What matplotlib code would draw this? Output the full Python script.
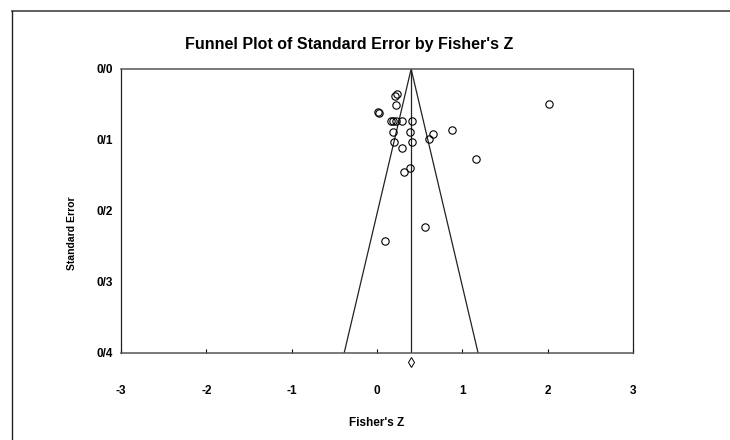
import matplotlib
matplotlib.use("Agg")
import matplotlib.pyplot as plt
from matplotlib.lines import Line2D

# study effects (Fisher's Z) and their standard errors
fisher_z = [0.207, 0.239, 0.223, 0.015, 0.027, 0.165, 0.188, 0.219, 0.298, 0.407,
            0.192, 0.392, 0.654, 0.607, 0.882, 0.200, 0.415, 0.290, 1.156, 0.384,
            0.321, 2.020, 0.568, 0.089]
std_err = [0.038, 0.035, 0.051, 0.061, 0.0625, 0.074, 0.074, 0.074, 0.074, 0.074,
           0.089, 0.089, 0.091, 0.098, 0.086, 0.103, 0.103, 0.112, 0.1265, 0.1396,
           0.145, 0.050, 0.2233, 0.2426]
pooled = 0.40
se_max = 0.4
diamond_se = 0.413

x_ticks = [-3, -2, -1, 0, 1, 2, 3]
y_ticks = [0.0, 0.1, 0.2, 0.3, 0.4]
y_labels = ['0/0', '0/1', '0/2', '0/3', '0/4']

narrow = ['Liberation Sans Narrow', 'Liberation Sans', 'DejaVu Sans']

fig = plt.figure(figsize=(7.3, 4.4), dpi=100)
ax = fig.add_axes([121/730, 1-352.7/440, (633-121)/730, (352.7-69)/440])

# funnel
ax.plot([pooled-1.96*se_max, pooled, pooled+1.96*se_max], [se_max, 0, se_max],
        color='#222222', lw=0.9)
ax.plot([pooled, pooled], [0, se_max], color='#222222', lw=0.9)

ax.plot(fisher_z, std_err, linestyle='None', marker='o', ms=5.3,
        mfc='none', mec='black', mew=0.8)
ax.plot([pooled], [diamond_se], marker='d', ms=5, mfc='none', mec='black',
        mew=0.7, clip_on=False)

ax.set_xlim(-3, 3)
ax.set_ylim(0.4, 0.0)
ax.set_xticks(x_ticks)
ax.set_xticklabels([str(t) for t in x_ticks], fontfamily=narrow,
                   fontweight='bold', fontsize=8.5)
ax.set_yticks(y_ticks)
ax.set_yticklabels(y_labels, fontfamily=narrow, fontweight='bold', fontsize=8.5)
ax.tick_params(axis='x', direction='in', length=3, width=0.8, pad=23)
ax.tick_params(axis='y', length=0, pad=6)

for s in ['left', 'right']:
    ax.spines[s].set_color('#222222')
    ax.spines[s].set_linewidth(0.9)
for s in ['top', 'bottom']:
    ax.spines[s].set_color('#555555')
    ax.spines[s].set_linewidth(1.1)

fig.text(349/730, 1-45/440, "Funnel Plot of Standard Error by Fisher's Z",
         ha='center', va='center', fontfamily=narrow, fontweight='bold',
         fontsize=11.5)
fig.text(377/730, 1-423/440, "Fisher's Z", ha='center', va='center',
         fontfamily=narrow, fontweight='bold', fontsize=8.5)
fig.text(72/730, 1-233/440, "Standard Error", ha='center', va='center',
         rotation=90, fontfamily=['Liberation Sans', 'DejaVu Sans'],
         fontweight='bold', fontsize=7.5)

# outer frame (top and left edges only)
fig.add_artist(Line2D([11.7/730, 1], [1-11/440, 1-11/440], color='#444444', lw=1.2))
fig.add_artist(Line2D([11.7/730, 11.7/730], [0, 1-11/440], color='#222222', lw=1.0))

fig.savefig('out.png', dpi=100)
